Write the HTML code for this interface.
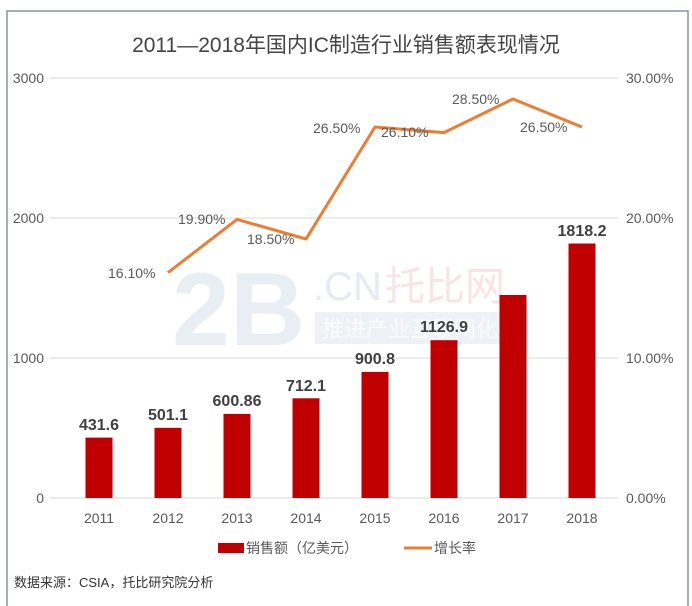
<!DOCTYPE html>
<html><head><meta charset="utf-8"><style>
body{margin:0;background:#fff;}
svg{display:block;font-family:"Liberation Sans","Noto Sans CJK SC",sans-serif;}
</style></head><body>
<svg width="692" height="606" viewBox="0 0 692 606">
<rect x="7" y="11" width="681" height="600" fill="#fff" stroke="#8a93a3" stroke-width="1.5"/>
<text x="346" y="52" text-anchor="middle" font-size="21" fill="#444">2011—2018年国内IC制造行业销售额表现情况</text>
<g stroke="#d9d9d9" stroke-width="1">
<line x1="50" y1="78" x2="618" y2="78"/><line x1="50" y1="218" x2="618" y2="218"/>
<line x1="50" y1="358" x2="618" y2="358"/><line x1="50" y1="498" x2="618" y2="498"/>
</g>
<!-- watermark -->
<text x="172" y="345" font-size="104" fill="#e9edf4" font-weight="bold">2B</text>
<text x="313" y="300" font-size="40" fill="#e6eaf2">.CN</text>
<text x="385" y="300" font-size="40" fill="#f8e3e5">托比网</text>
<rect x="315" y="312" width="198" height="32" fill="#eef1f6"/>
<text x="322" y="337" font-size="22" fill="#fafbfd">推进产业互联网化</text>
<g fill="#595959" font-size="14">
<text x="44" y="83" text-anchor="end">3000</text><text x="44" y="223" text-anchor="end">2000</text>
<text x="44" y="363" text-anchor="end">1000</text><text x="44" y="503" text-anchor="end">0</text>
<text x="626" y="83">30.00%</text><text x="626" y="223">20.00%</text>
<text x="626" y="363">10.00%</text><text x="626" y="503">0.00%</text>
</g>
<g fill="#c00000">
<rect x="85.5" y="437.6" width="27" height="60.4"/>
<rect x="154.5" y="427.8" width="27" height="70.2"/>
<rect x="223.5" y="413.9" width="27" height="84.1"/>
<rect x="292.5" y="398.3" width="27" height="99.7"/>
<rect x="361.5" y="371.9" width="27" height="126.1"/>
<rect x="430.5" y="340.2" width="27" height="157.8"/>
<rect x="499.5" y="295" width="27" height="203"/>
<rect x="568.5" y="243.5" width="27" height="254.5"/>
</g>
<g fill="#404040" font-size="16" font-weight="bold" text-anchor="middle">
<text x="99" y="430">431.6</text><text x="168" y="420">501.1</text>
<text x="237" y="406">600.86</text><text x="306" y="391">712.1</text>
<text x="375" y="364">900.8</text><text x="444" y="332">1126.9</text>
<text x="582" y="236">1818.2</text>
</g>
<polyline fill="none" stroke="#ed7d31" stroke-width="3" stroke-linejoin="round"
points="168,272.6 237,219.4 306,239 375,127 444,132.6 513,99 582,127"/>
<g fill="#595959" font-size="14">
<text x="108" y="278">16.10%</text><text x="178" y="224">19.90%</text>
<text x="247" y="244">18.50%</text><text x="313" y="133">26.50%</text>
<text x="381" y="137">26.10%</text><text x="452" y="104">28.50%</text>
<text x="520" y="132">26.50%</text>
</g>
<g fill="#595959" font-size="14" text-anchor="middle">
<text x="99" y="523">2011</text><text x="168" y="523">2012</text><text x="237" y="523">2013</text>
<text x="306" y="523">2014</text><text x="375" y="523">2015</text><text x="444" y="523">2016</text>
<text x="513" y="523">2017</text><text x="582" y="523">2018</text>
</g>
<rect x="218" y="543" width="26" height="10" fill="#c00000"/>
<text x="246" y="553" font-size="14" fill="#595959">销售额（亿美元）</text>
<line x1="404" y1="548" x2="432" y2="548" stroke="#ed7d31" stroke-width="3"/>
<text x="434" y="553" font-size="14" fill="#595959">增长率</text>
<text x="14" y="587" font-size="13" fill="#333">数据来源：CSIA，托比研究院分析</text>
</svg>
</body></html>
